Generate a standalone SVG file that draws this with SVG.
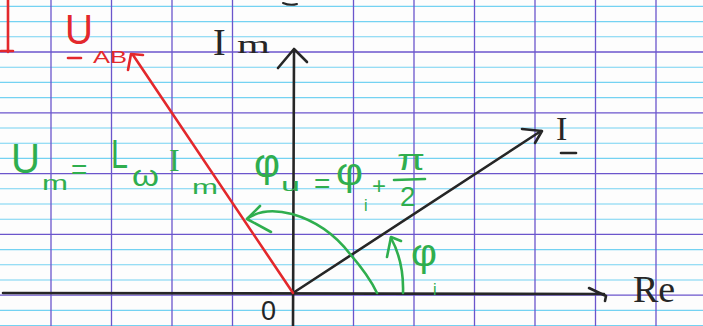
<svg xmlns="http://www.w3.org/2000/svg" width="703" height="326" viewBox="0 0 703 326">
<defs>
<style>
.cy{stroke:#74d2f2;stroke-width:1.1}
.pu{stroke:#6b55cc;stroke-width:1.3}
.blk{stroke:#262626;stroke-width:2.6;fill:none;stroke-linecap:round;stroke-linejoin:round}
.red{stroke:#e3282c;stroke-width:2.6;fill:none;stroke-linecap:round;stroke-linejoin:round}
.grn{stroke:#2fae4e;stroke-width:2.6;fill:none;stroke-linecap:round;stroke-linejoin:round}
.tg{fill:#2fae4e;font-family:"Liberation Sans",sans-serif}
.tgs{fill:#2fae4e;font-family:"Liberation Serif",serif}
.tr{fill:#e3282c;font-family:"Liberation Sans",sans-serif}
.tb{fill:#262626;font-family:"Liberation Serif",serif}
</style>
</defs>
<rect width="703" height="326" fill="#fdfdfd"/>
<g id="grid">
<g class="cy">
<line x1="0" y1="6.4" x2="703" y2="6.4"/><line x1="0" y1="21.6" x2="703" y2="21.6"/><line x1="0" y1="36.8" x2="703" y2="36.8"/>
<line x1="0" y1="67.2" x2="703" y2="67.2"/><line x1="0" y1="82.4" x2="703" y2="82.4"/><line x1="0" y1="97.6" x2="703" y2="97.6"/>
<line x1="0" y1="128" x2="703" y2="128"/><line x1="0" y1="143.2" x2="703" y2="143.2"/><line x1="0" y1="158.4" x2="703" y2="158.4"/>
<line x1="0" y1="188.8" x2="703" y2="188.8"/><line x1="0" y1="204" x2="703" y2="204"/><line x1="0" y1="219.2" x2="703" y2="219.2"/>
<line x1="0" y1="249.6" x2="703" y2="249.6"/><line x1="0" y1="264.8" x2="703" y2="264.8"/><line x1="0" y1="280" x2="703" y2="280"/>
<line x1="0" y1="310.4" x2="703" y2="310.4"/><line x1="0" y1="325.6" x2="703" y2="325.6"/>
</g>
<g class="pu">
<line x1="0" y1="52" x2="703" y2="52"/><line x1="0" y1="112.8" x2="703" y2="112.8"/><line x1="0" y1="173.6" x2="703" y2="173.6"/><line x1="0" y1="234.4" x2="703" y2="234.4"/><line x1="0" y1="295.2" x2="703" y2="295.2"/>
<line x1="51" y1="0" x2="51" y2="326"/><line x1="111.5" y1="0" x2="111.5" y2="326"/><line x1="172" y1="0" x2="172" y2="326"/><line x1="232.5" y1="0" x2="232.5" y2="326"/>
<line x1="353.5" y1="0" x2="353.5" y2="326"/><line x1="414" y1="0" x2="414" y2="326"/><line x1="474.5" y1="0" x2="474.5" y2="326"/><line x1="535" y1="0" x2="535" y2="326"/>
<line x1="595.5" y1="0" x2="595.5" y2="326"/><line x1="656" y1="0" x2="656" y2="326"/>
</g>
</g>
<g id="connectors">
<g id="axis-re"><path class="blk" d="M3,293 L604,294"/><path class="blk" d="M589,288 L606,296 L605,301"/></g>
<g id="axis-im"><path class="blk" d="M293,326 L294,50"/><path class="blk" d="M278,68 L294,49 L307,62"/></g>
<g id="vec-i"><path class="blk" d="M293,293 L541,131"/><path class="blk" d="M522,129 L542,131 L535,143"/></g>
<g id="vec-u"><path class="red" d="M293,293 L133,55"/><path class="red" d="M128,70 L131,54 L143,55"/></g>
<g id="arc-phiu"><path class="grn" d="M248,218 Q265,207 292,214 Q327,224 350,254 Q369,276 377,293"/><path class="grn" d="M260,206 L247,219 L271,232"/></g>
<g id="arc-phii"><path class="grn" d="M403,293 Q404,262 391,238"/><path class="grn" d="M387,257 L391,237 L401,241"/></g>
<path class="red" d="M8,0 L8,52 M1,51 L13,51"/>
<path class="blk" style="stroke-width:2" d="M283,3 Q290,6 297,4"/>
</g>
<g id="label-uab">
<text class="tr" x="65" y="44" font-size="42" textLength="28" lengthAdjust="spacingAndGlyphs">U</text>
<path class="red" d="M68,58 L81,58"/>
<text class="tr" x="93" y="63" font-size="17" textLength="34" lengthAdjust="spacingAndGlyphs">AB</text>
</g>
<g id="label-im">
<text class="tb" x="213" y="55" font-size="38">I</text>
<text class="tb" x="237" y="53" font-size="26" textLength="33" lengthAdjust="spacingAndGlyphs">m</text>
</g>
<g id="label-i">
<text class="tb" x="556" y="140" font-size="34">I</text>
<path class="blk" d="M561,153 L576,153"/>
</g>
<g id="label-o"><text class="tb" x="261" y="320" font-size="27" style="font-family:'Liberation Sans',sans-serif">0</text></g>
<g id="label-re"><text class="tb" x="633" y="302" font-size="38">Re</text></g>
<g id="label-um">
<text class="tg" x="11" y="173" font-size="42" textLength="29" lengthAdjust="spacingAndGlyphs">U</text>
<text class="tg" x="42" y="190" font-size="20" textLength="26" lengthAdjust="spacingAndGlyphs">m</text>
<text class="tg" x="71" y="179" font-size="28">=</text>
<text class="tg" x="111" y="168" font-size="40" textLength="17" lengthAdjust="spacingAndGlyphs">L</text>
<text class="tg" x="132" y="186" font-size="30" textLength="27" lengthAdjust="spacingAndGlyphs">ω</text>
<text class="tgs" x="169" y="171" font-size="32">I</text>
<text class="tg" x="192" y="194" font-size="20" textLength="26" lengthAdjust="spacingAndGlyphs">m</text>
</g>
<g id="label-phiu">
<text class="tg" x="254" y="177" font-size="40" textLength="26" lengthAdjust="spacingAndGlyphs">φ</text>
<text class="tg" x="281" y="191" font-size="18" textLength="19" lengthAdjust="spacingAndGlyphs">u</text>
<text class="tg" x="314" y="193" font-size="28">=</text>
<text class="tg" x="336" y="185" font-size="38" textLength="27" lengthAdjust="spacingAndGlyphs">φ</text>
<text class="tg" x="364" y="211" font-size="16">i</text>
<text class="tg" x="372" y="194" font-size="24">+</text>
<text class="tg" x="397" y="170" font-size="30" textLength="28" lengthAdjust="spacingAndGlyphs">π</text>
<path class="grn" d="M394,180 L425,179"/>
<text class="tg" x="400" y="206" font-size="28">2</text>
</g>
<g id="label-phii">
<text class="tg" x="411" y="266" font-size="38" textLength="26" lengthAdjust="spacingAndGlyphs">φ</text>
<text class="tg" x="433" y="295" font-size="16">i</text>
</g>
</svg>
